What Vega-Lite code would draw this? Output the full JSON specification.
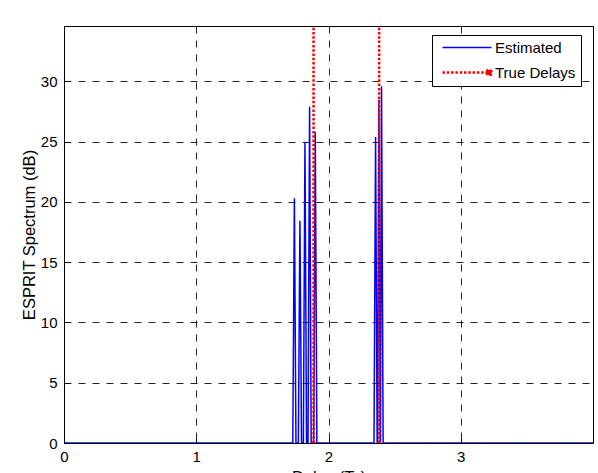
{
  "$schema": "https://vega.github.io/schema/vega-lite/v6.json",
  "autosize": {"type": "none"},
  "width": 529,
  "height": 417,
  "padding": {"left": 64, "top": 26, "right": 5, "bottom": 30},
  "background": "white",
  "datasets": {
    "est": [
      {"x": 0, "y": 0, "series": "Estimated"},
      {"x": 1.73, "y": 0, "series": "Estimated"},
      {"x": 1.742, "y": 20.3, "series": "Estimated"},
      {"x": 1.754, "y": 0, "series": "Estimated"},
      {"x": 1.772, "y": 0, "series": "Estimated"},
      {"x": 1.784, "y": 18.45, "series": "Estimated"},
      {"x": 1.796, "y": 0, "series": "Estimated"},
      {"x": 1.81, "y": 0, "series": "Estimated"},
      {"x": 1.822, "y": 25.0, "series": "Estimated"},
      {"x": 1.834, "y": 0, "series": "Estimated"},
      {"x": 1.845, "y": 0, "series": "Estimated"},
      {"x": 1.857, "y": 27.9, "series": "Estimated"},
      {"x": 1.869, "y": 0, "series": "Estimated"},
      {"x": 1.888, "y": 0, "series": "Estimated"},
      {"x": 1.9, "y": 25.8, "series": "Estimated"},
      {"x": 1.912, "y": 0, "series": "Estimated"},
      {"x": 2.344, "y": 0, "series": "Estimated"},
      {"x": 2.356, "y": 25.4, "series": "Estimated"},
      {"x": 2.368, "y": 0, "series": "Estimated"},
      {"x": 2.371, "y": 0, "series": "Estimated"},
      {"x": 2.381, "y": 28.5, "series": "Estimated"},
      {"x": 2.391, "y": 0, "series": "Estimated"},
      {"x": 2.393, "y": 0, "series": "Estimated"},
      {"x": 2.401, "y": 29.6, "series": "Estimated"},
      {"x": 2.413, "y": 0, "series": "Estimated"},
      {"x": 4, "y": 0, "series": "Estimated"}
    ],
    "truth": [
      {"k": 1, "x": 1.887, "y": 0, "series": "True Delays"},
      {"k": 1, "x": 1.887, "y": 40, "series": "True Delays"},
      {"k": 2, "x": 2.383, "y": 0, "series": "True Delays"},
      {"k": 2, "x": 2.383, "y": 40, "series": "True Delays"}
    ]
  },
  "config": {
    "font": "Liberation Sans",
    "view": {"stroke": "black", "strokeWidth": 1},
    "axis": {
      "domainColor": "black",
      "tickColor": "black",
      "labelColor": "black",
      "titleColor": "black",
      "labelFont": "Liberation Sans",
      "titleFont": "Liberation Sans",
      "labelFontSize": 15,
      "titleFontSize": 16.5,
      "titleFontWeight": "normal",
      "gridColor": "black",
      "gridDash": [7, 7],
      "gridOpacity": 0.85,
      "tickSize": -5
    }
  },
  "layer": [
    {
      "data": {"name": "est"},
      "mark": {"type": "line", "strokeWidth": 1.5, "clip": true},
      "encoding": {
        "x": {
          "field": "x", "type": "quantitative",
          "scale": {"domain": [0, 4], "nice": false, "zero": false},
          "axis": {"values": [0, 1, 2, 3], "format": "d", "title": "Delay (Ts)", "labelPadding": 11, "titleBaseline": "top", "titleY": 26, "grid": true, "labelFlush": false}
        },
        "y": {
          "field": "y", "type": "quantitative",
          "scale": {"domain": [0, 34.6], "nice": false},
          "axis": {"values": [0, 5, 10, 15, 20, 25, 30], "format": "d", "title": "ESPRIT Spectrum (dB)", "labelPadding": 12, "titleX": -27, "grid": true}
        },
        "color": {
          "field": "series", "type": "nominal",
          "scale": {"domain": ["Estimated", "True Delays"], "range": ["#0000ff", "#ff0000"]},
          "legend": {
            "title": null,
            "orient": "none",
            "legendX": 368,
            "legendY": 9,
            "fillColor": "white",
            "strokeColor": "black",
            "padding": 5,
            "symbolType": "M-0.167,0H3.917",
            "symbolSize": 576,
            "symbolStrokeWidth": 1.3,
            "symbolStrokeColor": "#0000ff",
            "labelFontSize": 15,
            "labelFont": "Liberation Sans",
            "labelColor": "black",
            "labelOffset": 43,
            "rowPadding": 8,
            "encode": {
              "symbols": {
                "update": {
                  "shape": {"signal": "datum.label === 'True Delays' ? 'M-0.167,0H3.7M3.5,0a0.22,0.22 0 1,0 0.44,0a0.22,0.22 0 1,0 -0.44,0' : 'M-0.167,0H3.917'"},
                  "stroke": {"signal": "datum.label === 'True Delays' ? '#ff0000' : '#0000ff'"},
                  "fill": {"signal": "datum.label === 'True Delays' ? '#ff0000' : 'transparent'"},
                  "strokeWidth": {"signal": "datum.label === 'True Delays' ? 2.5 : 1.3"},
                  "strokeDash": {"signal": "datum.label === 'True Delays' ? [2.5, 1.8] : [1, 0]"},
                  "opacity": {"value": 1}
                }
              }
            }
          }
        },
        "strokeDash": {
          "field": "series", "type": "nominal",
          "scale": {"domain": ["Estimated", "True Delays"], "range": [[1, 0], [2.5, 1.8]]},
          "legend": null
        }
      }
    },
    {
      "data": {"name": "truth"},
      "mark": {"type": "point", "filled": true, "size": 18, "color": "#ff0000", "opacity": 1, "clip": true},
      "encoding": {
        "x": {"field": "x", "type": "quantitative"},
        "y": {"field": "y", "type": "quantitative"}
      }
    },
    {
      "data": {"name": "truth"},
      "mark": {"type": "line", "strokeWidth": 2.5, "clip": true},
      "encoding": {
        "x": {"field": "x", "type": "quantitative"},
        "y": {"field": "y", "type": "quantitative"},
        "detail": {"field": "k", "type": "nominal"},
        "order": {"field": "y", "type": "quantitative"},
        "color": {"field": "series", "type": "nominal"},
        "strokeDash": {"field": "series", "type": "nominal", "legend": null}
      }
    }
  ]
}
